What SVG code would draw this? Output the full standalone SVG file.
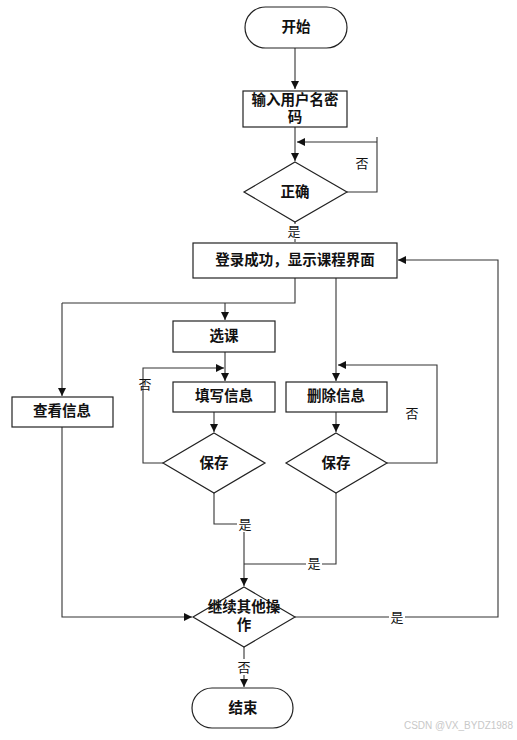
<svg xmlns="http://www.w3.org/2000/svg" width="517" height="740" viewBox="0 0 517 740">
<defs>
<marker id="ah" viewBox="0 0 10 10" refX="10" refY="5" markerWidth="8" markerHeight="8" markerUnits="userSpaceOnUse" orient="auto">
<path d="M0,0 L10,5 L0,10 z" fill="#111"/>
</marker>
<style>
.shape{fill:#fff;stroke:#222;stroke-width:1.2}
.t{font-family:"Liberation Serif","Noto Sans CJK SC",serif;font-size:14.5px;font-weight:bold;fill:#111;text-anchor:middle;dominant-baseline:central}
.l{font-family:"Liberation Serif","Noto Sans CJK SC",serif;font-size:13px;fill:#111;text-anchor:middle;dominant-baseline:central}
.c{fill:none;stroke:#333;stroke-width:1.1}
.a{marker-end:url(#ah)}
.bg{fill:#fff}
</style>
</defs>
<rect width="517" height="740" fill="#fff"/>
<g id="connectors">
<path class="c a" d="M295,48 V89"/>
<path class="c a" d="M295,127 V161"/>
<path class="c a" d="M347,192 H377 V137 M377,142 H297"/>
<path class="c" d="M295,222 V242"/>
<path class="c" d="M295,278 V303 H62"/>
<path class="c a" d="M62,303 V396"/>
<path class="c a" d="M225,303 V320"/>
<path class="c a" d="M225,352 V381"/>
<path class="c a" d="M163,463 H143 V368 H224"/>
<path class="c a" d="M214,412 V432"/>
<path class="c a" d="M336,278 V381"/>
<path class="c a" d="M387,463 H437 V365 H338"/>
<path class="c a" d="M336,412 V432"/>
<path class="c" d="M214,493 V524 H244"/>
<path class="c a" d="M244,524 V586"/>
<path class="c" d="M336,493 V564 H244"/>
<path class="c a" d="M62,427 V617 H192"/>
<path class="c a" d="M295,617 H498 V260 H398"/>
<path class="c a" d="M244,647 V687"/>
<rect class="bg" x="286" y="224" width="16" height="15"/>
<text class="l" x="294" y="231">是</text>
<text class="l" x="362" y="163">否</text>
<text class="l" x="145" y="384">否</text>
<text class="l" x="412" y="413">否</text>
<rect class="bg" x="237" y="516" width="16" height="16"/>
<text class="l" x="245" y="524">是</text>
<rect class="bg" x="306" y="556" width="16" height="16"/>
<text class="l" x="314" y="563">是</text>
<rect class="bg" x="389" y="609" width="16" height="16"/>
<text class="l" x="397" y="617">是</text>
<rect class="bg" x="236" y="659" width="16" height="16"/>
<text class="l" x="244" y="667">否</text>
</g>
<g id="start">
<rect class="shape" x="245" y="7" width="102" height="41" rx="20.5"/>
<text class="t" x="296" y="27">开始</text>
</g>
<g id="input">
<rect class="shape" x="243" y="91" width="104" height="36"/>
<text class="t" x="295" y="100">输入用户名密</text>
<text class="t" x="295" y="117">码</text>
</g>
<g id="check">
<polygon class="shape" points="295,162 347,192 295,222 244,192"/>
<text class="t" x="295" y="192">正确</text>
</g>
<g id="main">
<rect class="shape" x="193" y="243" width="204" height="35"/>
<text class="t" x="295" y="260">登录成功，显示课程界面</text>
</g>
<g id="select">
<rect class="shape" x="173" y="321" width="102" height="31"/>
<text class="t" x="224" y="336">选课</text>
</g>
<g id="fill">
<rect class="shape" x="173" y="382" width="102" height="30"/>
<text class="t" x="224" y="396">填写信息</text>
</g>
<g id="save1">
<polygon class="shape" points="214,433 265,463 214,493 163,463"/>
<text class="t" x="214" y="463">保存</text>
</g>
<g id="view">
<rect class="shape" x="12" y="397" width="101" height="30"/>
<text class="t" x="62" y="411">查看信息</text>
</g>
<g id="delete">
<rect class="shape" x="286" y="382" width="101" height="30"/>
<text class="t" x="336" y="396">删除信息</text>
</g>
<g id="save2">
<polygon class="shape" points="336,433 387,463 336,493 286,463"/>
<text class="t" x="336" y="463">保存</text>
</g>
<g id="continue">
<polygon class="shape" points="244,587 295,617 244,647 193,617"/>
<text class="t" x="244" y="607">继续其他操</text>
<text class="t" x="244" y="625">作</text>
</g>
<g id="end">
<rect class="shape" x="192" y="688" width="101" height="40" rx="20"/>
<text class="t" x="243" y="708">结束</text>
</g>
<text x="513" y="729" font-family="Liberation Sans, Arial, sans-serif" font-size="10" fill="#c8c8c8" text-anchor="end">CSDN @VX_BYDZ1988</text>
</svg>
